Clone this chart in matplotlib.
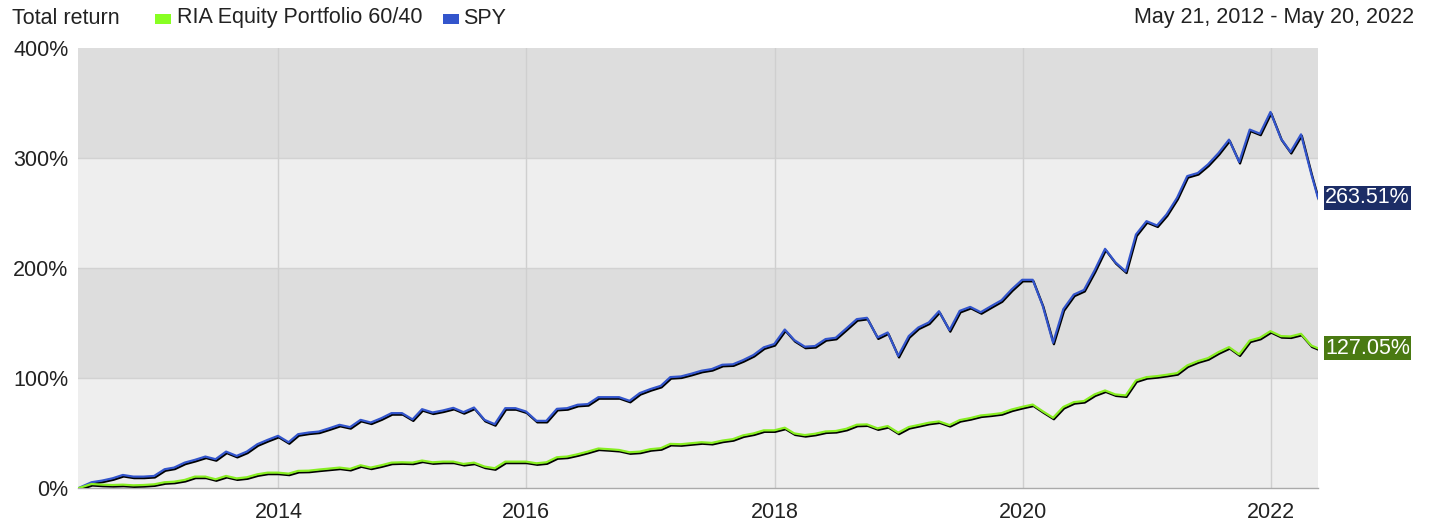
import matplotlib
matplotlib.use("Agg")
import matplotlib.pyplot as plt
import matplotlib.patheffects as pe
from matplotlib.patches import Rectangle
import pandas as pd

plt.rcParams['font.family'] = ['Liberation Sans', 'DejaVu Sans']

# month-end observations between the start and end dates (%, total return)
start_date = "2012-05-21"
end_date = "2022-05-20"
series_names = ["RIA Equity Portfolio 60/40", "SPY"]
spy = [0, 5.5, 7, 9.1, 12.1, 10.6, 10.6, 11.2, 17.3, 18.8, 23.3, 25.8, 28.8, 26.4,
       33.3, 29.4, 33.3, 40, 43.9, 47.6, 41.8, 49.1, 50.6, 51.5, 54.5, 57.6, 55.5,
       62.1, 59.7, 63.6, 68.2, 68.2, 62.5, 71.8, 68.8, 70.6, 73, 69.1, 73.3, 62.1,
       58.2, 72.7, 72.7, 69.7, 61.2, 61.2, 72.1, 72.7, 75.8, 76.4, 82.7, 82.7, 82.7,
       79.4, 86.4, 90, 93, 100.9, 101.5, 103.9, 106.7, 108.2, 112.1, 112.5, 116.3,
       121, 127.9, 130.9, 144.1, 134.5, 128.5, 129.1, 135.4, 136.6, 145, 153.5,
       154.7, 136.9, 141.4, 120.1, 138.1, 145.9, 150.5, 160.7, 143.5, 161, 164.6,
       159.8, 165.2, 170.6, 180.5, 189.2, 189.2, 166.1, 132.1, 162.5, 175.8, 180,
       197.6, 217.3, 205.2, 196.7, 230.3, 242.4, 238.5, 248.5, 263.6, 283.3, 286.1,
       293.9, 304.2, 316.4, 296.1, 325.5, 321.8, 341.5, 317.3, 305.2, 321.2, 285.5,
       263.51]
ria = [0, 3.9, 3.3, 3.0, 3.3, 2.7, 3.0, 3.6, 5.5, 6.0, 7.6, 10.6, 10.6, 8.2, 11.2,
       9.0, 10.0, 12.7, 14.2, 14.2, 13.3, 15.8, 16.0, 17.0, 17.9, 18.8, 17.6, 20.9,
       18.8, 20.9, 23.3, 23.6, 23.3, 25.2, 23.6, 24.2, 24.2, 22.1, 23.3, 19.7, 18.2,
       24.2, 24.2, 24.2, 22.7, 23.6, 28.2, 28.8, 30.9, 33.3, 36.1, 35.5, 34.8, 32.7,
       33.3, 35.5, 36.4, 40.3, 40.0, 40.9, 41.8, 41.2, 43.3, 44.6, 48.0, 49.8, 52.6,
       52.6, 55.0, 49.8, 48.3, 49.5, 51.6, 52.0, 54.0, 57.7, 58.0, 54.4, 56.5, 50.5,
       55.6, 57.4, 59.5, 60.7, 57.4, 61.9, 63.7, 66.1, 67.0, 68.2, 71.5, 73.9, 76.0,
       70.0, 64.0, 73.8, 78.2, 79.2, 85.2, 88.8, 85.2, 84.3, 97.9, 100.9, 101.8,
       103.0, 104.5, 111.5, 115.4, 118.1, 123.6, 128.1, 121.5, 134.1, 136.6, 142.6,
       138.1, 137.8, 140.2, 129.6, 127.05]
year_ticks = [2014, 2016, 2018, 2020, 2022]
y_ticks = [0, 100, 200, 300, 400]

dates = ([pd.Timestamp(start_date)]
         + list(pd.date_range("2012-06-30", periods=len(spy) - 2, freq=pd.offsets.MonthEnd()))
         + [pd.Timestamp(end_date)])

FS = 15.5
W, H = 1436, 525
fig = plt.figure(figsize=(W / 100, H / 100), dpi=100)
ax = fig.add_axes([78 / W, 1 - 488.3 / H, (1318 - 78) / W, (488.3 - 47.5) / H])

# alternating bands
band_colors = ['#eeeeee', '#dddddd', '#eeeeee', '#dddddd']
for k, c in enumerate(band_colors):
    ax.axhspan(y_ticks[k], y_ticks[k + 1], color=c, lw=0, zorder=0)
for yv in y_ticks[1:-1]:
    ax.axhline(yv, color='#d2d2d2', lw=1, zorder=1)
for yr in year_ticks:
    ax.axvline(pd.Timestamp(f"{yr}-01-01"), color='#cfcfcf', lw=1, zorder=1)

shadow = [pe.SimpleLineShadow(offset=(0.6, -1.1), shadow_color='black', alpha=1, rho=1),
          pe.Normal()]
ax.plot(dates, spy, color='#3355cc', lw=1.6, zorder=3, path_effects=shadow)
ax.plot(dates, ria, color='#88ee22', lw=1.6, zorder=3, path_effects=shadow)

ax.set_xlim(pd.Timestamp(start_date), pd.Timestamp(end_date))
ax.set_ylim(0, 400)
ax.set_yticks(y_ticks)
ax.set_yticklabels([f"{v}%" for v in y_ticks])
ax.set_xticks([pd.Timestamp(f"{yr}-01-01") for yr in year_ticks])
ax.set_xticklabels([str(yr) for yr in year_ticks])
ax.tick_params(axis='both', length=0, labelsize=FS, labelcolor='#222222')
ax.tick_params(axis='y', pad=7)
ax.tick_params(axis='x', pad=10)
for s in ['top', 'right', 'left']:
    ax.spines[s].set_visible(False)
ax.spines['bottom'].set_color('#aaaaaa')
ax.spines['bottom'].set_linewidth(1)
ax.spines['bottom'].set_zorder(2)

# end labels
for val, bg in [(spy[-1], '#1c2d66'), (ria[-1], '#4a7a12')]:
    ax.annotate(f"{val:.2f}%", xy=(dates[-1], val), xytext=(5, 0),
                textcoords='offset points', va='center', ha='left',
                fontsize=FS, color='white', annotation_clip=False,
                bbox=dict(boxstyle='square,pad=0.06', fc=bg, ec='none'))

# header
fig.text(12 / W, 1 - 18 / H, "Total return", fontsize=FS, color='#222222',
         va='center', ha='left')
legend_items = [(155, 177, '#88ff22', series_names[0]),
                (443, 463, '#3355cc', series_names[1])]
for x0, tx, col, name in legend_items:
    fig.add_artist(Rectangle((x0 / W, 1 - 24 / H), 15.5 / W, 10 / H,
                             transform=fig.transFigure, color=col, lw=0))
    fig.text(tx / W, 1 - 18 / H, name, fontsize=FS, color='#222222',
             va='center', ha='left')
fig.text(1414 / W, 1 - 18 / H, "May 21, 2012 - May 20, 2022", fontsize=FS,
         color='#222222', va='center', ha='right')

fig.savefig("out.png", dpi=100)
